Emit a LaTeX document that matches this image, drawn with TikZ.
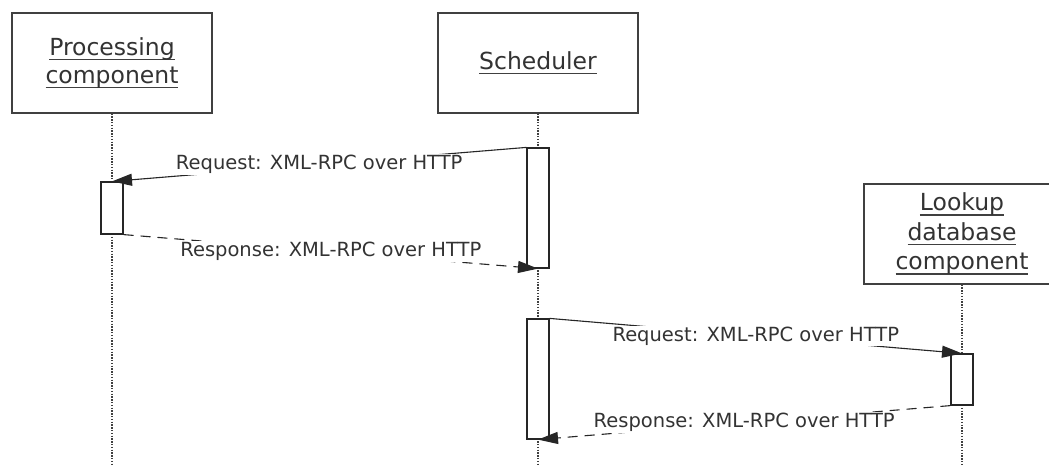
\documentclass[tikz,border=0pt]{standalone}
\usepackage{fontspec}
\setmainfont{DejaVu Sans}
\usetikzlibrary{arrows.meta}
\newcommand\myul[1]{\setbox0\hbox{#1}\rlap{\raisebox{-4.8pt}{\color{black!75}\rule{\wd0}{1.4pt}}}\box0}
\begin{document}
\begin{tikzpicture}[x=1pt,y=-1pt,
  obj/.style={draw=black!75,line width=1.3pt,fill=white,inner sep=0pt,
    font=\fontsize{23.5}{28}\selectfont,text=black!80,align=center},
  act/.style={draw=black!85,line width=1.2pt,fill=white,minimum width=22pt,inner sep=0pt},
  life/.style={draw=black!75,line width=1.3pt,dash pattern=on 1.4pt off 1.4pt},
  msg/.style={draw=black!85,line width=1.1pt,-{Triangle[length=20pt,width=12pt]}},
  reply/.style={msg,dash pattern=on 10pt off 7pt},
  lbl/.style={fill=white,font=\fontsize{19.5}{23}\selectfont,text=black!80,inner xsep=4pt,inner ysep=1pt}]
\clip (0,0) rectangle (1049,464);
\fill[white] (0,0) rectangle (1049,464);
% objects
\node[obj,minimum width=200pt,minimum height=100pt] (proc) at (112,63)
  {\myul{Processing}\\\myul{component}};
\node[obj,minimum width=200pt,minimum height=100pt] (sched) at (538,63)
  {\myul{Scheduler}};
\node[obj,minimum width=196pt,minimum height=100pt,font=\fontsize{23.5}{29.5}\selectfont] (look) at (962,234)
  {\myul{Lookup}\\\myul{database}\\\myul{component}};
% lifeline ends
\coordinate (procEnd) at (112,464);
\coordinate (schedEnd) at (538,464);
\coordinate (lookEnd) at (962,464);
\draw[life] (proc.south) -- (procEnd);
\draw[life] (sched.south) -- (schedEnd);
\draw[life] (look.south) -- (lookEnd);
% activations
\node[act,minimum height=52pt] (pa) at (112,208) {};
\node[act,minimum height=120pt] (sa1) at (538,208) {};
\node[act,minimum height=120pt] (sa2) at (538,379) {};
\node[act,minimum height=51pt] (la) at (962,379.5) {};
% messages
\draw[msg] (sa1.north west) -- node[lbl] {Request: XML-RPC over HTTP} (pa.north);
\draw[reply] (pa.south east) -- node[lbl] {Response: XML-RPC over HTTP} (sa1.south);
\draw[msg] (sa2.north east) -- node[lbl] {Request: XML-RPC over HTTP} (la.north);
\draw[reply] (la.south west) -- node[lbl] {Response: XML-RPC over HTTP} (sa2.south);
\end{tikzpicture}
\end{document}
